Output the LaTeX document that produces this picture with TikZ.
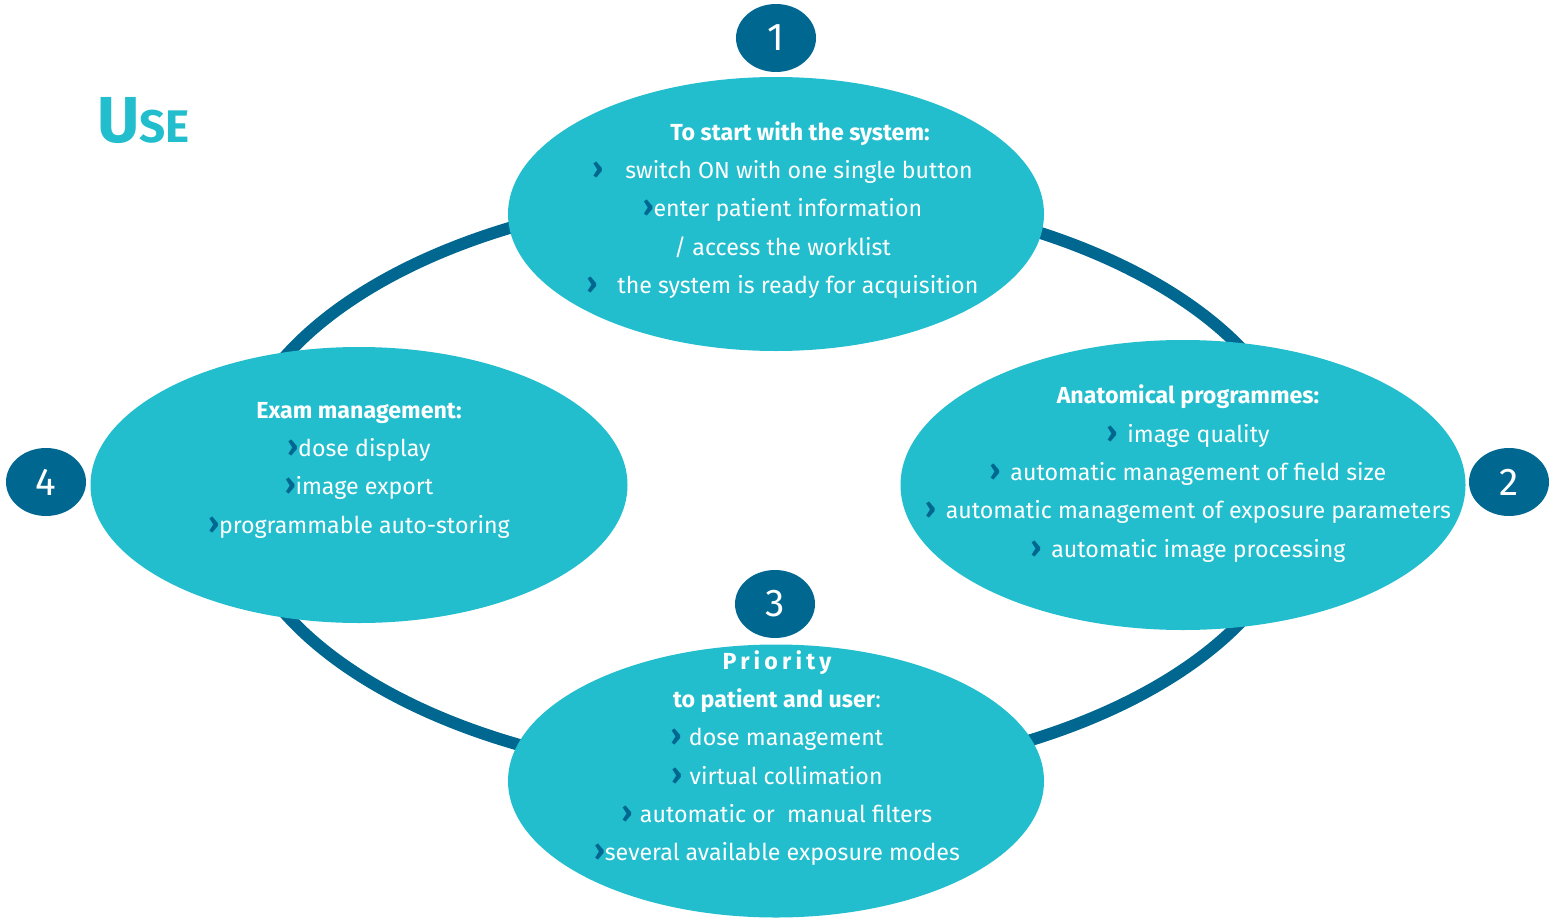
\documentclass[tikz,border=0pt]{standalone}
\usepackage{fontspec}
\setmainfont{Fira Sans}
\usetikzlibrary{shapes.geometric}

\definecolor{lagoon}{HTML}{22BECE}
\definecolor{deepsea}{HTML}{006890}
\newcommand{\chev}{{\color{deepsea}\fontsize{17}{21.8}\selectfont\bfseries ›}}

\begin{document}
\begin{tikzpicture}[
		bubble/.style = {ellipse, fill = lagoon, inner sep = 0pt},
		badge/.style = {ellipse, fill = deepsea, text = white, minimum width = 1.6cm, minimum height = 1.36cm, inner sep = 0pt, font = \fontsize{22}{22}\selectfont},
		blurb/.style = {align = center, text = white, font = \fontsize{13.2}{21.8}\selectfont},
	]
	\useasboundingbox (0, 0) rectangle (31, -18.42);

	% ring behind the four stages
	\coordinate (hub) at (15.34, -9.70);
	\draw[deepsea, line width = 0.24cm] (hub) ellipse [x radius = 10.72, y radius = 5.86];

	\node[anchor = base west, text = lagoon, font = \bfseries] (title) at (1.82, -2.84) {\fontsize{37}{37}\selectfont U\fontsize{26}{26}\selectfont SE};

	\node[bubble, minimum width = 10.72cm, minimum height = 5.48cm] (start) at (15.52, -4.28) {};
	\node[bubble, minimum width = 11.3cm, minimum height = 5.8cm] (anat) at (23.66, -9.70) {};
	\node[bubble, minimum width = 10.72cm, minimum height = 5.46cm] (prio) at (15.52, -15.62) {};
	\node[bubble, minimum width = 10.74cm, minimum height = 5.52cm] (exam) at (7.18, -9.70) {};

	\node[blurb] (start-txt) at (15.65, -4.2) {\hspace*{0.7cm}\textbf{To start with the system:}\\
		\chev\hspace{0.45cm}switch ON with one single button\\
		\chev enter patient information\hspace*{0.2cm}\\
		/ access the worklist\\
		\chev\hspace{0.4cm}the system is ready for acquisition};
	\node[blurb] (anat-txt) at (23.76, -9.47) {\textbf{Anatomical programmes:}\\
		\chev\hspace{0.2cm}image quality\\
		\chev\hspace{0.2cm}automatic management of field size\\
		\chev\hspace{0.2cm}automatic management of exposure parameters\\
		\chev\hspace{0.2cm}automatic image processing};
	\node[blurb] (prio-txt) at (15.54, -15.16) {{\bfseries\addfontfeature{LetterSpace=18}Priority}\\
		\textbf{to patient and user}:\\
		\chev\hspace{0.15cm}dose management\\
		\chev\hspace{0.15cm}virtual collimation\\
		\chev\hspace{0.15cm}automatic or\ \ manual filters\\
		\chev several available exposure modes};
	\node[blurb] (exam-txt) at (7.18, -9.4) {\textbf{Exam management:}\\
		\chev dose display\\
		\chev image export\\
		\chev programmable auto-storing};

	\node[badge] (b1) at (15.52, -0.76) {1};
	\node[badge] (b2) at (30.18, -9.64) {2};
	\node[badge] (b3) at (15.5, -12.08) {3};
	\node[badge] (b4) at (0.92, -9.64) {4};
\end{tikzpicture}
\end{document}
